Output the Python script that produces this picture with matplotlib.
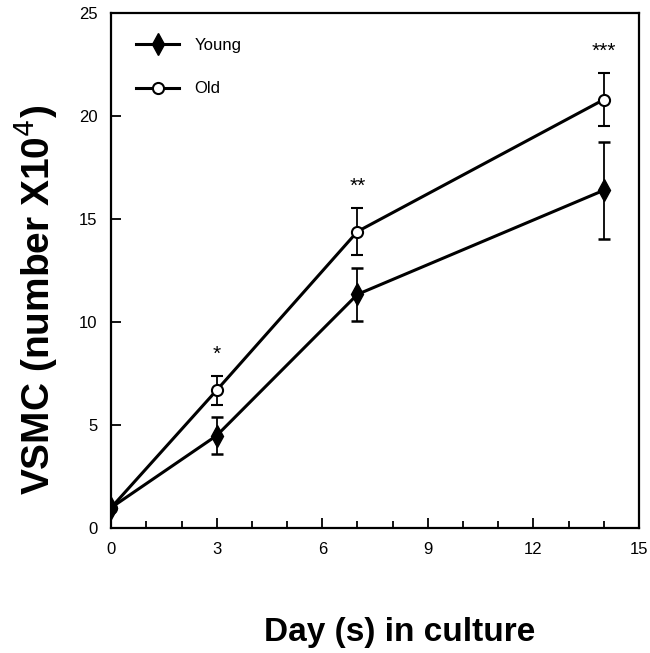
import matplotlib.pyplot as plt
from matplotlib.lines import Line2D
import numpy as np

# data
days = [0, 3, 7, 14]
young = [1.0, 4.5, 11.35, 16.4]
young_err = [0.0, 0.9, 1.3, 2.35]
old = [1.0, 6.7, 14.4, 20.8]
old_err = [0.0, 0.7, 1.15, 1.3]
stars = ["", "*", "**", "***"]

tick_font = ["Liberation Sans Narrow", "Liberation Sans", "DejaVu Sans"]
label_font = ["Liberation Sans", "DejaVu Sans"]

fig = plt.figure(figsize=(6.5, 6.53), dpi=100)
ax = fig.add_axes([0.171, 0.191, 0.812, 0.789])

# old first so the filled young marker sits on top at day 0
ax.errorbar(days, old, yerr=old_err, color="black", lw=2.2,
            marker="o", ms=8, mfc="white", mec="black", mew=1.5,
            elinewidth=1.3, capsize=4.5, capthick=1.8)
ax.errorbar(days, young, yerr=young_err, color="black", lw=2.2,
            marker="d", ms=11, mfc="black", mec="black",
            elinewidth=1.3, capsize=4.5, capthick=1.8)

# significance stars above the old group
for d, o, e, s in zip(days, old, old_err, stars):
    if s:
        ax.text(d, o + e + 0.6, s, ha="center", va="bottom", fontsize=15,
                family=label_font)

ax.set_xlim(0, 15)
ax.set_ylim(0, 25)
ax.set_xticks(np.arange(0, 16, 3))
ax.set_xticks(np.arange(0, 16, 1), minor=True)
ax.set_yticks(np.arange(0, 26, 5))
ax.tick_params(axis="both", which="major", direction="in", length=7,
               width=1.3, labelsize=12, pad=10)
ax.tick_params(axis="x", which="minor", direction="in", length=5, width=1.3)
for lab in ax.get_xticklabels() + ax.get_yticklabels():
    lab.set_family(tick_font)
for sp in ax.spines.values():
    sp.set_linewidth(1.6)

ax.set_xlabel("Day (s) in culture", fontsize=24, fontweight="bold",
              family=label_font, va="center")
ax.xaxis.set_label_coords(0.547, -0.202)
ax.set_ylabel("VSMC (number X10$^4$)", fontsize=28, fontweight="bold",
              family=label_font, va="center")
ax.yaxis.set_label_coords(-0.144, 0.443)

handles = [
    Line2D([], [], color="black", lw=2.2, marker="d", ms=11, mfc="black"),
    Line2D([], [], color="black", lw=2.2, marker="o", ms=8, mfc="white",
           mew=1.5),
]
ax.legend(handles, ["Young", "Old"], loc="upper left", frameon=False,
          handlelength=2.6, borderaxespad=1.1, labelspacing=1.7,
          handletextpad=0.9, prop={"family": tick_font, "size": 12})

fig.savefig("out.png", dpi=100)
